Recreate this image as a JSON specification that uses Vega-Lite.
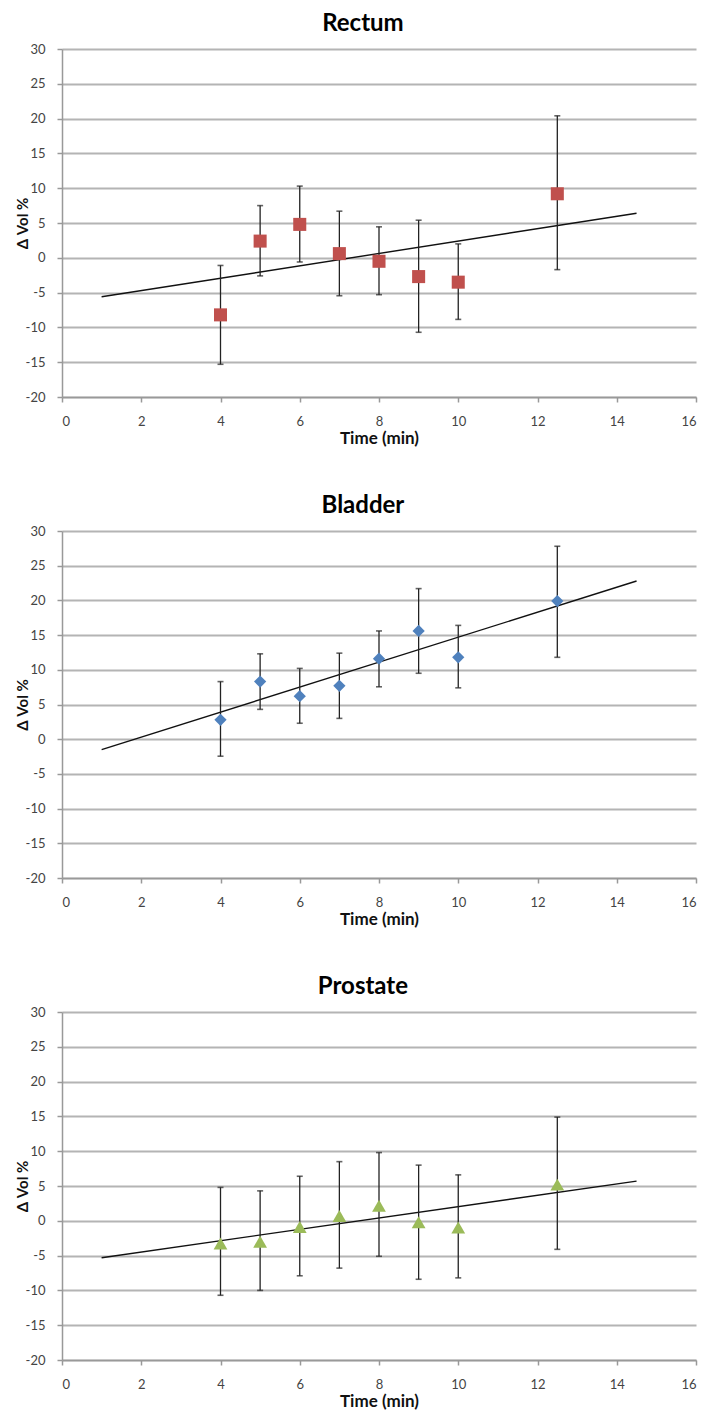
{
  "$schema": "https://vega.github.io/schema/vega-lite/v6.json",
  "background": "white",
  "padding": {"top": 12, "left": 15, "right": 4, "bottom": 4},
  "spacing": 48,
  "config": {
    "view": {"stroke": null},
    "font": "Lato, Open Sans, sans-serif",
    "title": {"fontSize": 24, "fontWeight": "bold", "color": "#000", "anchor": "middle", "frame": "bounds", "offset": 7, "dx": 7},
    "axisX": {"grid": false, "domainColor": "#999", "domainWidth": 1.5, "tickColor": "#999", "tickWidth": 1.5, "tickSize": 5, "labelFontSize": 13, "labelColor": "#444", "labelPadding": 13, "titleFontSize": 17, "titleFontWeight": "bold", "titleColor": "#111", "titlePadding": 2},
    "axisY": {"grid": true, "gridColor": "#b4b4b4", "gridWidth": 1.8, "domainColor": "#999", "domainWidth": 1.5, "tickColor": "#999", "tickWidth": 1.5, "tickSize": 5, "labelFontSize": 13, "labelColor": "#444", "labelPadding": 12, "labelOverlap": false, "titleFontSize": 15, "titleFontWeight": "bold", "titleColor": "#111", "titlePadding": -5}
  },
  "datasets": {
    "points": [
      {"organ": "Rectum", "time": 4, "mean": -8.2, "lo": -15.3, "hi": -1.1},
      {"organ": "Rectum", "time": 5, "mean": 2.4, "lo": -2.6, "hi": 7.5},
      {"organ": "Rectum", "time": 6, "mean": 4.8, "lo": -0.6, "hi": 10.3},
      {"organ": "Rectum", "time": 7, "mean": 0.6, "lo": -5.45, "hi": 6.7},
      {"organ": "Rectum", "time": 8, "mean": -0.5, "lo": -5.3, "hi": 4.45},
      {"organ": "Rectum", "time": 9, "mean": -2.7, "lo": -10.7, "hi": 5.4},
      {"organ": "Rectum", "time": 10, "mean": -3.5, "lo": -8.85, "hi": 2.0},
      {"organ": "Rectum", "time": 12.5, "mean": 9.2, "lo": -1.7, "hi": 20.4},
      {"organ": "Bladder", "time": 4, "mean": 2.8, "lo": -2.45, "hi": 8.3},
      {"organ": "Bladder", "time": 5, "mean": 8.3, "lo": 4.3, "hi": 12.3},
      {"organ": "Bladder", "time": 6, "mean": 6.2, "lo": 2.3, "hi": 10.2},
      {"organ": "Bladder", "time": 7, "mean": 7.7, "lo": 3.0, "hi": 12.4},
      {"organ": "Bladder", "time": 8, "mean": 11.6, "lo": 7.55, "hi": 15.6},
      {"organ": "Bladder", "time": 9, "mean": 15.6, "lo": 9.5, "hi": 21.7},
      {"organ": "Bladder", "time": 10, "mean": 11.8, "lo": 7.4, "hi": 16.4},
      {"organ": "Bladder", "time": 12.5, "mean": 19.9, "lo": 11.8, "hi": 27.8},
      {"organ": "Prostate", "time": 4, "mean": -3.25, "lo": -10.7, "hi": 4.8},
      {"organ": "Prostate", "time": 5, "mean": -3.0, "lo": -10.0, "hi": 4.3},
      {"organ": "Prostate", "time": 6, "mean": -0.9, "lo": -7.9, "hi": 6.4},
      {"organ": "Prostate", "time": 7, "mean": 0.7, "lo": -6.8, "hi": 8.5},
      {"organ": "Prostate", "time": 8, "mean": 2.15, "lo": -5.1, "hi": 9.8},
      {"organ": "Prostate", "time": 9, "mean": -0.2, "lo": -8.4, "hi": 8.0},
      {"organ": "Prostate", "time": 10, "mean": -0.96, "lo": -8.2, "hi": 6.6},
      {"organ": "Prostate", "time": 12.5, "mean": 5.2, "lo": -4.1, "hi": 14.9}
    ],
    "trend": [
      {"organ": "Rectum", "time": 1, "value": -5.6},
      {"organ": "Rectum", "time": 14.5, "value": 6.4},
      {"organ": "Bladder", "time": 1, "value": -1.5},
      {"organ": "Bladder", "time": 14.5, "value": 22.8},
      {"organ": "Prostate", "time": 1, "value": -5.3},
      {"organ": "Prostate", "time": 14.5, "value": 5.7}
    ]
  },
  "vconcat": [
    {
      "title": "Rectum",
      "width": 634,
      "height": 348,
      "encoding": {
        "x": {"field": "time", "type": "quantitative", "scale": {"domain": [0, 16], "nice": false}, "axis": {"values": [0, 2, 4, 6, 8, 10, 12, 14, 16]}, "title": "Time (min)"}
      },
      "layer": [
        {
          "data": {"name": "trend"},
          "transform": [{"filter": "datum.organ === 'Rectum'"}],
          "mark": {"type": "line", "color": "#111", "strokeWidth": 1.4},
          "encoding": {
            "y": {"field": "value", "type": "quantitative", "scale": {"domain": [-20, 30], "nice": false}, "axis": {"values": [-20, -15, -10, -5, 0, 5, 10, 15, 20, 25, 30], "labelExpr": "replace(datum.label, '−', '-')"}, "title": "Δ Vol %"}
          }
        },
        {
          "data": {"name": "points"},
          "transform": [{"filter": "datum.organ === 'Rectum'"}],
          "mark": {"type": "errorbar", "color": "#222", "thickness": 1.3, "ticks": {"size": 6, "thickness": 1.6, "color": "#222"}},
          "encoding": {
            "y": {"field": "lo", "type": "quantitative", "scale": {"domain": [-20, 30], "nice": false}, "axis": {"values": [-20, -15, -10, -5, 0, 5, 10, 15, 20, 25, 30], "labelExpr": "replace(datum.label, '−', '-')"}, "title": "Δ Vol %"},
            "y2": {"field": "hi"}
          }
        },
        {
          "data": {"name": "points"},
          "transform": [{"filter": "datum.organ === 'Rectum'"}],
          "mark": {"type": "point", "shape": "square", "filled": true, "color": "#C0504D", "opacity": 1, "size": 170},
          "encoding": {
            "y": {"field": "mean", "type": "quantitative", "scale": {"domain": [-20, 30], "nice": false}, "axis": {"values": [-20, -15, -10, -5, 0, 5, 10, 15, 20, 25, 30], "labelExpr": "replace(datum.label, '−', '-')"}, "title": "Δ Vol %"}
          }
        }
      ]
    },
    {
      "title": "Bladder",
      "width": 634,
      "height": 347,
      "encoding": {
        "x": {"field": "time", "type": "quantitative", "scale": {"domain": [0, 16], "nice": false}, "axis": {"values": [0, 2, 4, 6, 8, 10, 12, 14, 16]}, "title": "Time (min)"}
      },
      "layer": [
        {
          "data": {"name": "trend"},
          "transform": [{"filter": "datum.organ === 'Bladder'"}],
          "mark": {"type": "line", "color": "#111", "strokeWidth": 1.4},
          "encoding": {
            "y": {"field": "value", "type": "quantitative", "scale": {"domain": [-20, 30], "nice": false}, "axis": {"values": [-20, -15, -10, -5, 0, 5, 10, 15, 20, 25, 30], "labelExpr": "replace(datum.label, '−', '-')"}, "title": "Δ Vol %"}
          }
        },
        {
          "data": {"name": "points"},
          "transform": [{"filter": "datum.organ === 'Bladder'"}],
          "mark": {"type": "errorbar", "color": "#222", "thickness": 1.3, "ticks": {"size": 6, "thickness": 1.6, "color": "#222"}},
          "encoding": {
            "y": {"field": "lo", "type": "quantitative", "scale": {"domain": [-20, 30], "nice": false}, "axis": {"values": [-20, -15, -10, -5, 0, 5, 10, 15, 20, 25, 30], "labelExpr": "replace(datum.label, '−', '-')"}, "title": "Δ Vol %"},
            "y2": {"field": "hi"}
          }
        },
        {
          "data": {"name": "points"},
          "transform": [{"filter": "datum.organ === 'Bladder'"}],
          "mark": {"type": "point", "shape": "diamond", "filled": true, "color": "#4F81BD", "opacity": 1, "size": 150},
          "encoding": {
            "y": {"field": "mean", "type": "quantitative", "scale": {"domain": [-20, 30], "nice": false}, "axis": {"values": [-20, -15, -10, -5, 0, 5, 10, 15, 20, 25, 30], "labelExpr": "replace(datum.label, '−', '-')"}, "title": "Δ Vol %"}
          }
        }
      ]
    },
    {
      "title": "Prostate",
      "width": 634,
      "height": 348,
      "encoding": {
        "x": {"field": "time", "type": "quantitative", "scale": {"domain": [0, 16], "nice": false}, "axis": {"values": [0, 2, 4, 6, 8, 10, 12, 14, 16]}, "title": "Time (min)"}
      },
      "layer": [
        {
          "data": {"name": "trend"},
          "transform": [{"filter": "datum.organ === 'Prostate'"}],
          "mark": {"type": "line", "color": "#111", "strokeWidth": 1.4},
          "encoding": {
            "y": {"field": "value", "type": "quantitative", "scale": {"domain": [-20, 30], "nice": false}, "axis": {"values": [-20, -15, -10, -5, 0, 5, 10, 15, 20, 25, 30], "labelExpr": "replace(datum.label, '−', '-')"}, "title": "Δ Vol %"}
          }
        },
        {
          "data": {"name": "points"},
          "transform": [{"filter": "datum.organ === 'Prostate'"}],
          "mark": {"type": "errorbar", "color": "#222", "thickness": 1.3, "ticks": {"size": 6, "thickness": 1.6, "color": "#222"}},
          "encoding": {
            "y": {"field": "lo", "type": "quantitative", "scale": {"domain": [-20, 30], "nice": false}, "axis": {"values": [-20, -15, -10, -5, 0, 5, 10, 15, 20, 25, 30], "labelExpr": "replace(datum.label, '−', '-')"}, "title": "Δ Vol %"},
            "y2": {"field": "hi"}
          }
        },
        {
          "data": {"name": "points"},
          "transform": [{"filter": "datum.organ === 'Prostate'"}],
          "mark": {"type": "point", "shape": "triangle-up", "filled": true, "color": "#9BBB59", "opacity": 1, "size": 190},
          "encoding": {
            "y": {"field": "mean", "type": "quantitative", "scale": {"domain": [-20, 30], "nice": false}, "axis": {"values": [-20, -15, -10, -5, 0, 5, 10, 15, 20, 25, 30], "labelExpr": "replace(datum.label, '−', '-')"}, "title": "Δ Vol %"}
          }
        }
      ]
    }
  ]
}
